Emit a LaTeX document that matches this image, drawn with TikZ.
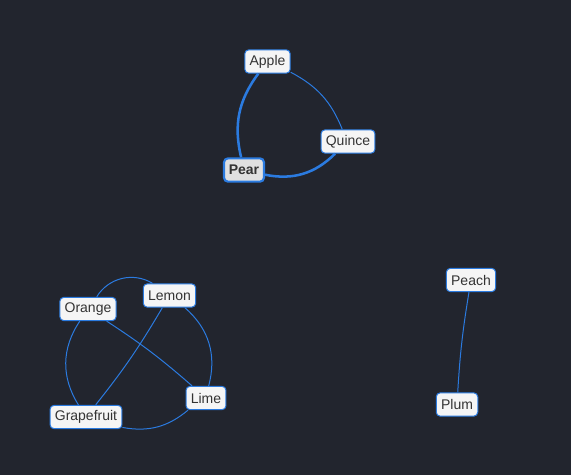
\documentclass[tikz,border=0pt]{standalone}
\usepackage{fontspec}
\setmainfont{Liberation Sans}
\definecolor{bg}{HTML}{22252E}
\definecolor{edge}{HTML}{2B7BE0}
\definecolor{nodefill}{HTML}{F5F5F5}
\definecolor{txt}{HTML}{333333}
\tikzstyle{fruit}=[draw=edge, line width=0.75pt, fill=nodefill, text=txt, rounded corners=3pt,
  font=\fontsize{10.5}{12}\selectfont, inner xsep=3.6pt, minimum height=17.5pt]
\tikzstyle{picked}=[fruit, line width=1.6pt, fill=black!12, font=\fontsize{10.5}{12}\selectfont\bfseries]
\tikzstyle{link}=[draw=edge, line width=0.75pt]
\tikzstyle{strong}=[draw=edge, line width=1.9pt]

\begin{document}
\begin{tikzpicture}[x=0.75pt, y=-0.75pt]
    \fill[bg] (0,0) rectangle (571,475);
    \useasboundingbox (0,0) rectangle (571,475);

    \node[fruit] (Apple) at (267.5, 61.5) {Apple};
    \node[fruit] (Quince) at (348, 141.5) {Quince};
    \node[picked] (Pear) at (244, 170) {Pear};

    \node[fruit] (Orange) at (88, 309) {Orange};
    \node[fruit] (Lemon) at (169.5, 295.5) {Lemon};
    \node[fruit] (Lime) at (206, 398) {Lime};
    \node[fruit] (Grapefruit) at (86, 417) {Grapefruit};

    \node[fruit] (Peach) at (471, 280) {Peach};
    \node[fruit] (Plum) at (457, 404.5) {Plum};

    \path[link] (Apple) to[bend left=20] (Quince);
    \path[strong] (Quince) to[bend left=28] (Pear);
    \path[strong] (Pear) to[bend left=25] (Apple);

    \path[link] (Orange) to[bend left=45] (Lemon);
    \path[link] (Lemon) to[bend left=32] (Lime);
    \path[link] (Lime) to[bend left=25] (Grapefruit);
    \path[link] (Grapefruit) to[bend left=33] (Orange);
    \path[link] (Orange) to[bend left=4] (Lime);
    \path[link] (Lemon) to[bend left=4] (Grapefruit);

    \path[link] (Peach) to[bend right=3] (Plum);
\end{tikzpicture}
\end{document}
